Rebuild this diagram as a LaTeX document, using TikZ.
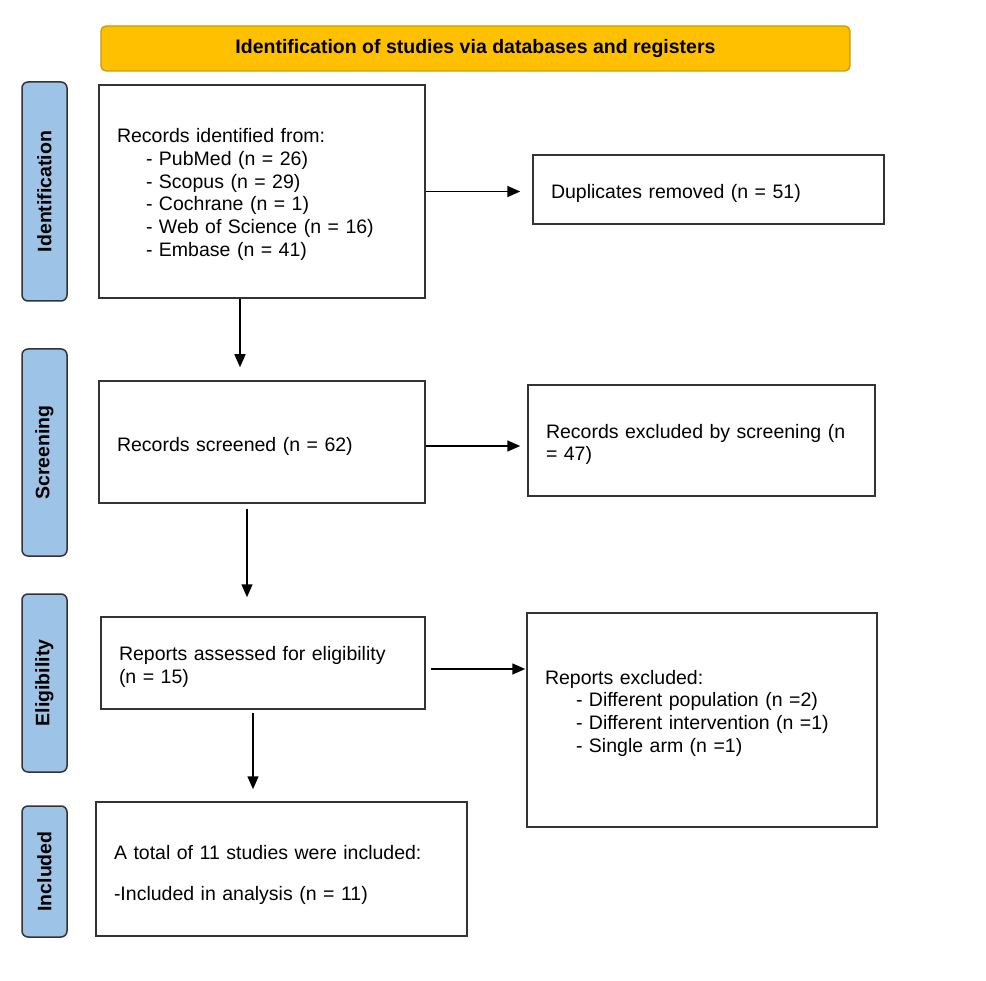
\documentclass[tikz,border=0pt]{standalone}
\usepackage{fontspec}
\setmainfont{Liberation Sans}
\usetikzlibrary{arrows.meta,positioning}
\definecolor{amber}{HTML}{FFC000}
\definecolor{amberline}{HTML}{C99A0A}
\definecolor{phaseblue}{HTML}{9DC3E6}
\definecolor{edge}{HTML}{333333}
\newcommand\topgap[1][22]{\rule{0pt}{#1pt}}

\begin{document}
\begin{tikzpicture}[x=1pt,y=-1pt,
  font=\fontsize{19.5}{22.7}\selectfont,
  box/.style={draw=edge,line width=1.5pt,align=left,inner xsep=18pt,inner ysep=0pt},
  phase/.style={draw=edge,fill=phaseblue,line width=1.5pt,rounded corners=6pt,rotate=90,
    minimum height=45pt,inner sep=0pt,font=\fontsize{19.5}{22.7}\selectfont\bfseries},
  flow/.style={-{Triangle[length=13pt,width=11pt]},line width=1.5pt,black}]
\useasboundingbox (0,0) rectangle (986,981);

% banner
\node[draw=amberline,fill=amber,line width=1.3pt,rounded corners=5pt,minimum width=749pt,
  minimum height=45pt,font=\fontsize{19.5}{22.7}\selectfont\bfseries] (head) at (475.5,48.5)
  {Identification of studies via databases and registers};

% phase bars
\foreach \i/\y/\h/\lab in {1/191.5/219/Identification,2/452.5/207/Screening,
                           3/683/178/Eligibility,4/871.5/131/Included}{
  \node[phase,minimum width=\h pt] (ph\i) at (44.5,\y) {\lab};
}

% boxes
\node[box,text width=290pt,minimum height=213pt] (rec) at (262,191.5)
  {\topgap[20]Records identified from:\\
   \hspace*{29pt}- PubMed (n = 26)\\
   \hspace*{29pt}- Scopus (n = 29)\\
   \hspace*{29pt}- Cochrane (n = 1)\\
   \hspace*{29pt}- Web of Science (n = 16)\\
   \hspace*{29pt}- Embase (n = 41)};
\node[box,text width=315pt,minimum height=69pt] (dup) at (708.5,189.5)
  {\topgap Duplicates removed (n = 51)};
\node[box,text width=290pt,minimum height=122pt] (scr) at (262,442)
  {\topgap[24]Records screened (n = 62)};
\node[box,text width=311pt,minimum height=111pt] (exs) at (701.5,440.5)
  {\topgap Records excluded by screening (n\\= 47)};
\node[box,text width=288pt,minimum height=92pt] (elig) at (263,663)
  {\topgap Reports assessed for eligibility\\(n = 15)};
\node[box,text width=314pt,minimum height=214pt] (rex) at (702,720)
  {Reports excluded:\\
   \hspace*{31pt}- Different population (n =2)\\
   \hspace*{31pt}- Different intervention (n =1)\\
   \hspace*{31pt}- Single arm (n =1)\rule[-18pt]{0pt}{18pt}};
\node[box,text width=335pt,minimum height=134pt] (inc) at (281.5,869)
  {\topgap[26]A total of 11 studies were included:\\[19pt]
   -Included in analysis (n = 11)};

% arrows
\draw[flow,shorten >=12pt] (rec.east) -- (rec.east -| dup.west);
\draw[flow,shorten >=13pt] ([xshift=-22pt]rec.south) -- ([xshift=-22pt]scr.north);
\draw[flow,shorten >=7pt] ([yshift=-4pt]scr.east) -- ([yshift=-4pt]scr.east -| exs.west);
\draw[flow,shorten <=5pt,shorten >=19pt] ([xshift=-15pt]scr.south) -- ([xshift=-16pt]elig.north);
\draw[flow,shorten <=5pt,shorten >=1pt] ([yshift=-6pt]elig.east) -- ([yshift=-6pt]elig.east -| rex.west);
\draw[flow,shorten <=3pt,shorten >=12pt] ([xshift=-10pt]elig.south) -- ([xshift=-10pt]elig.south |- inc.north);
\end{tikzpicture}
\end{document}
